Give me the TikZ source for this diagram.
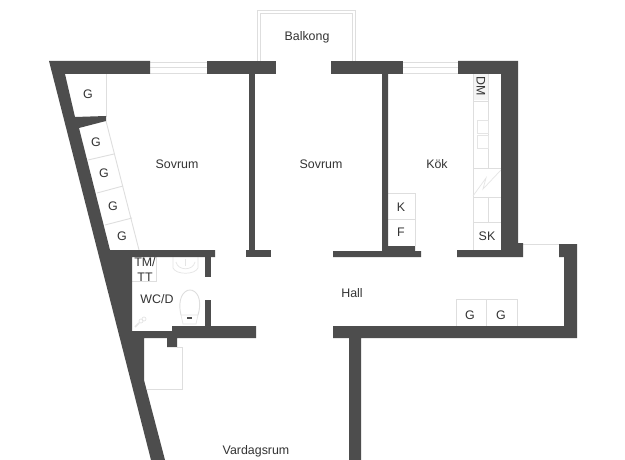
\documentclass[tikz,border=0pt]{standalone}
\usepackage{fontspec}
\setmainfont{Liberation Sans}
\usepackage{xcolor}
\usetikzlibrary{positioning,calc}
\definecolor{wallgray}{HTML}{4D4D4D}
\definecolor{fixgray}{HTML}{DEDEDE}
\definecolor{labelgray}{HTML}{333333}
\tikzset{
    wall/.style={fill=wallgray, draw=none},
    fixture/.style={draw=fixgray, line width=0.9pt},
    fixturethin/.style={draw=fixgray!80!white, line width=0.7pt},
    roomlabel/.style={text=labelgray, inner sep=0pt, font=\fontsize{12.4}{14}\selectfont}
}

\begin{document}
\begin{tikzpicture}[x=1pt, y=-1pt]
    \useasboundingbox [fill=white] (0,0) rectangle (625,460);

    % balcony and windows
    \draw [fixture] (257,61) -- (257,10) -- (355,10) -- (355,61);
    \draw [fixture] (260,61) -- (260,13) -- (352,13) -- (352,61);
    \foreach \wy in {62,67,73} {
        \draw [fixture] (150,\wy) -- (207,\wy);
        \draw [fixture] (403,\wy) -- (458,\wy);
    }
    \draw [fixture] (523,244) -- (559,244);

    % closets in the bedroom
    \draw [fixture] (106,74) -- (106,117);
    \draw [fixture] (106,121) -- (139,250);
    \draw [fixture] (88,160) -- (114,154);
    \draw [fixture] (97,193) -- (123,186);
    \draw [fixture] (105,225) -- (132,218);

    % kitchen
    \draw [fixture] (388,193) -- (415,193) -- (415,246);
    \draw [fixture] (388,219) -- (415,219);
    \fill [fixgray!35] (473,74) rectangle (488,100);
    \draw [fixture] (473,74) -- (473,250);
    \draw [fixture] (473,101) -- (488,101);
    \draw [fixture] (488,74) -- (488,168);
    \draw [fixturethin] (477,120) rectangle (488,133);
    \draw [fixturethin] (477,135) rectangle (488,148);
    \draw [fixture] (473,168) -- (501,168);
    \draw [fixture] (473,197) -- (501,197);
    \draw [fixture] (488,197) -- (488,222);
    \draw [fixture] (473,222) -- (501,222);
    \draw [fixturethin] (473,196) -- (486,178) -- (483,189) -- (501,170);

    % hall closets
    \draw [fixture] (456,326) -- (456,299) -- (517,299) -- (517,326);
    \draw [fixture] (486,299) -- (486,326);

    % bathroom
    \draw [fixture] (132,281) -- (156,281) -- (156,257);
    \draw [fixturethin] (173,257) -- (173,268) .. controls (176,275) and (195,275) .. (198,268) -- (198,257);
    \draw [fixturethin] (176,262) .. controls (178,271) and (193,271) .. (195,262);
    \draw [fixturethin] (185,259) -- (185,266);
    \draw [fixture] (181,315) .. controls (177,298) and (184,290) .. (190,290) .. controls (196,290) and (203,298) .. (198,315);
    \draw [fixturethin] (181,315) -- (183,324) -- (196,324) -- (198,315) -- cycle;
    \fill [wallgray] (187,317) rectangle (192,319);
    \draw [fixturethin, line width=1.5pt] (135,327) -- (139,323);
    \draw [fixturethin] (141,321) circle (2pt);
    \draw [fixturethin] (144,319) circle (2pt);

    % cabinet by the living room
    \draw [fixture] (177,347) -- (182,347) -- (182,389) -- (147,389);

    % walls
    \fill [wall] (49,61) -- (150,61) -- (150,74) -- (65,74) -- (75,117) -- (106,116)
        -- (106,121) -- (79,128) -- (110,250) -- (215,250) -- (215,257) -- (132,257)
        -- (132,331) -- (172,331) -- (172,326) -- (256,326) -- (256,338) -- (177,338)
        -- (177,347) -- (167,347) -- (167,338) -- (144,338) -- (144,380) -- (165,460)
        -- (151,460) -- cycle;
    \fill [wall] (207,61) rectangle (276,74);
    \fill [wall] (331,61) rectangle (403,74);
    \fill [wall] (458,61) -- (518,61) -- (518,243) -- (523,243) -- (523,257) -- (457,257)
        -- (457,250) -- (501,250) -- (501,74) -- (458,74) -- cycle;
    \fill [wall] (249,74) rectangle (255,250);
    \fill [wall] (246,250) rectangle (271,257);
    \fill [wall] (382,74) -- (388,74) -- (388,246) -- (415,246) -- (415,251) -- (421,251)
        -- (421,257) -- (333,257) -- (333,251) -- (382,251) -- cycle;
    \fill [wall] (205,257) rectangle (211,277);
    \fill [wall] (205,300) rectangle (211,326);
    \fill [wall] (333,326) -- (564,326) -- (564,257) -- (559,257) -- (559,244) -- (577,244)
        -- (577,338) -- (361,338) -- (361,460) -- (349,460) -- (349,338) -- (333,338) -- cycle;

    % labels
    \node [roomlabel] (balkong) at (307,37) {Balkong};
    \node [roomlabel] (sovrumA) at (177,164) {Sovrum};
    \node [roomlabel] (sovrumB) at (321,164) {Sovrum};
    \node [roomlabel] (kok) at (437,164) {Kök};
    \node [roomlabel] (hall) at (352,293) {Hall};
    \node [roomlabel] (vardagsrum) at (256,451) {Vardagsrum};
    \node [roomlabel] (wcd) at (157,299) {WC/D};
    \node [roomlabel] (tm) at (145,262) {TM/};
    \node [roomlabel] (tt) at (145,277) {TT};
    \node [roomlabel] (gA) at (88,94) {G};
    \node [roomlabel] (gB) at (96,142) {G};
    \node [roomlabel] (gC) at (104,173) {G};
    \node [roomlabel] (gD) at (113,206) {G};
    \node [roomlabel] (gE) at (122,236) {G};
    \node [roomlabel] (gF) at (470,315) {G};
    \node [roomlabel] (gG) at (501,315) {G};
    \node [roomlabel] (kyl) at (401,207) {K};
    \node [roomlabel] (frys) at (401,232) {F};
    \node [roomlabel] (sk) at (487,236) {SK};
    \node [roomlabel, rotate=-90] (dm) at (481,86) {DM};
\end{tikzpicture}
\end{document}
